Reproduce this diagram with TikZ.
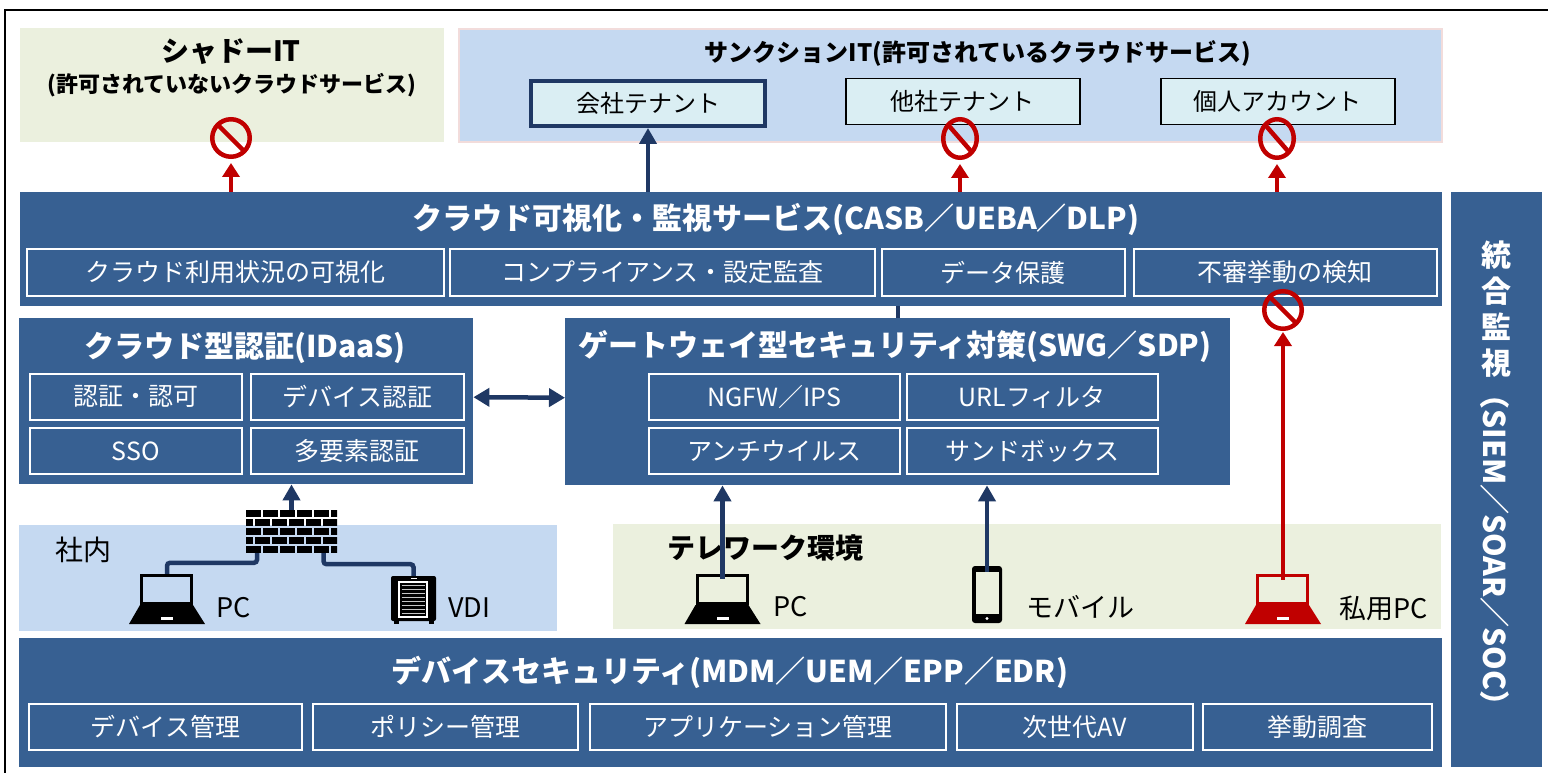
\documentclass[tikz,border=0pt]{standalone}
\usepackage{fontspec}
\setmainfont{Noto Sans CJK JP}
\usetikzlibrary{arrows.meta,shapes.geometric,calc}
\definecolor{navy}{RGB}{55,96,146}
\definecolor{darknavy}{RGB}{31,56,100}
\definecolor{lightblue}{RGB}{197,217,241}
\definecolor{lightgreen}{RGB}{235,240,222}
\definecolor{tenantfill}{RGB}{218,238,243}
\definecolor{pinkline}{RGB}{242,220,219}
\definecolor{alertred}{RGB}{192,0,0}
\newcommand\myfs[1]{\fontsize{#1}{#1}\selectfont}
\tikzset{
  wh/.style 2 args={minimum width=#1pt, minimum height=#2pt, anchor=north west},
  bluebox/.style={inner sep=0, fill=navy, draw=none},
  titlew/.style={text=white, font=\bfseries\myfs{30}, inner sep=0},
  subbox/.style={inner sep=0, draw=white, line width=1.8pt, text=white, font=\myfs{25}},
  tenant/.style={inner sep=0, fill=tenantfill, draw=black, line width=1.5pt, font=\myfs{24}},
  lbl/.style={font=\myfs{27}, inner sep=0, anchor=west},
  icon/.style={inner sep=0, draw=none},
  nosign/.style={draw=alertred, line width=4.5pt, inner sep=0,
    path picture={\draw[alertred, line width=4.5pt] (path picture bounding box.north west) -- (path picture bounding box.south east);}},
  nocircle/.style={nosign, circle, minimum size=37.5pt},
  noellipse/.style={nosign, ellipse, minimum width=33.5pt, minimum height=38.5pt},
  redarrow/.style={draw=alertred, line width=4.5pt, -{Triangle[length=14pt,width=17pt]}},
  navyarrow/.style={draw=darknavy, line width=4.5pt, -{Triangle[length=16pt,width=17pt]}},
  navydouble/.style={draw=darknavy, line width=4.5pt, {Triangle[length=16pt,width=18pt]}-{Triangle[length=16pt,width=18pt]}},
  navyline/.style={draw=darknavy, line width=4.5pt},
  laptop/.pic={
    \draw[line width=3pt] (-25.5,-23.5) rectangle (24.5,4.5);
    \fill (-27,6) -- (26,6) -- (38,25) -- (-38,25) -- cycle;
    \fill[white] (-6,18) rectangle (6,21);
  },
  mobile/.pic={
    \fill[black, rounded corners=3pt] (-15,-28.5) rectangle (15,28.5);
    \fill[lightgreen] (-11.5,-22.5) rectangle (11.5,19.5);
    \fill[white] (0,24) circle (1.6pt);
  },
  vdi/.pic={
    \fill[black, rounded corners=2pt] (-22.5,-24) rectangle (22.5,21);
    \fill[black] (-20,20) rectangle (-15,24);
    \fill[black] (15,20) rectangle (20,24);
    \fill[white] (-15.5,-19) rectangle (14.5,18);
    \fill[black] (-13.5,-17) rectangle (12.5,16);
    \foreach \ss in {0,...,7} \draw[gray!45, line width=1.6pt] (-12,{-14.5+\ss*4}) -- (11,{-14.5+\ss*4});
    \fill[white] (-3,-22.5) rectangle (3,-21);
  },
  firewall/.pic={
    \begin{scope}
      \clip (-45.5,-21.5) rectangle (45.5,21.5);
      \foreach \rr in {0,1,2,3,4}{
        \pgfmathsetmacro\yy{-21.5+\rr*9}
        \pgfmathsetmacro\off{ifthenelse(mod(\rr,2)==0,0,-8.5)}
        \foreach \kk in {0,...,6}{
          \fill[black] ({-45.5+\off+\kk*17},\yy) rectangle ++(15.3,7);
        }
      }
    \end{scope}
  }
}
\begin{document}
\begin{tikzpicture}[x=1pt,y=-1pt]
\useasboundingbox (0,0) rectangle (1548,773);
\fill[white] (0,0) rectangle (1548,773);
% outer frame
\draw[line width=2.5pt] (5,773) -- (5,10) -- (1548,10);

% Shadow IT
\node[wh={424}{114}, inner sep=0, fill=lightgreen] (shadow) at (20,28) {};
\node[font=\bfseries\myfs{28}, inner sep=0] (shadowT1) at (231,52) {シャドーIT};
\node[font=\bfseries\myfs{22}, inner sep=0] (shadowT2) at (232,85) {(許可されていないクラウドサービス)};

% Sanction IT
\node[wh={983}{113}, inner sep=0, fill=lightblue, draw=pinkline, line width=2pt] (sanction) at (458,28) {};
\node[font=\bfseries\myfs{24}, inner sep=0] (sanctionT) at (978,53) {サンクションIT(許可されているクラウドサービス)};
\node[tenant, draw=darknavy, line width=4pt, wh={234}{45}] (t1) at (529,79) {会社テナント};
\node[tenant, wh={234}{46}] (t2) at (845,78) {他社テナント};
\node[tenant, wh={234}{46}] (t3) at (1160,78) {個人アカウント};

% CASB
\node[bluebox, wh={1422}{114}] (casb) at (20,192) {};
\node[titlew] (casbT) at (776,219) {クラウド可視化・監視サービス(CASB／UEBA／DLP)};
\node[subbox, wh={417}{47}] (c1) at (26,248) {クラウド利用状況の可視化};
\node[subbox, wh={425}{47}] (c2) at (449,248) {コンプライアンス・設定監査};
\node[subbox, wh={243}{47}] (c3) at (881,248) {データ保護};
\node[subbox, wh={303}{47}] (c4) at (1133,248) {不審挙動の検知};

% unified monitoring
\node[bluebox, wh={91}{575}] (siem) at (1451,192) {};
\node[text=white, font=\bfseries\fontsize{30}{36}\selectfont, align=center, inner sep=0] (siemT1) at (1496,309) {統\\合\\監\\視};
\node[text=white, font=\bfseries\myfs{30}, rotate=-90, inner sep=0] (siemT2) at (1495,550) {（SIEM／SOAR／SOC）};

% IDaaS
\node[bluebox, wh={454}{166}] (idaas) at (19,318) {};
\node[titlew] (idaasT) at (245,348) {クラウド型認証(IDaaS)};
\node[subbox, wh={212}{46}] (i1) at (29,373) {認証・認可};
\node[subbox, wh={213}{46}] (i2) at (250,373) {デバイス認証};
\node[subbox, wh={212}{46}] (i3) at (29,427) {SSO};
\node[subbox, wh={213}{46}] (i4) at (250,427) {多要素認証};

% Gateway
\node[bluebox, wh={665}{167}] (gw) at (565,318) {};
\node[titlew] (gwT) at (895,347) {ゲートウェイ型セキュリティ対策(SWG／SDP)};
\node[subbox, wh={251}{46}] (g1) at (648,373) {NGFW／IPS};
\node[subbox, wh={251}{46}] (g2) at (906,373) {URLフィルタ};
\node[subbox, wh={251}{46}] (g3) at (648,427) {アンチウイルス};
\node[subbox, wh={251}{46}] (g4) at (906,427) {サンドボックス};

% in-house
\node[wh={538}{106}, inner sep=0, fill=lightblue] (shanai) at (19,525) {};
\node[font=\myfs{28}, inner sep=0, anchor=west] (shanaiL) at (55,550) {社内};

% telework
\node[wh={828}{105}, inner sep=0, fill=lightgreen] (tele) at (613,524) {};
\node[font=\bfseries\myfs{28}, inner sep=0, anchor=west] (teleL) at (667,548) {テレワーク環境};

% device security
\node[bluebox, wh={1423}{129}] (dev) at (19,638) {};
\node[titlew] (devT) at (730,672) {デバイスセキュリティ(MDM／UEM／EPP／EDR)};
\node[subbox, wh={273}{46}] (d1) at (28,703) {デバイス管理};
\node[subbox, wh={265}{46}] (d2) at (312,703) {ポリシー管理};
\node[subbox, wh={356}{46}] (d3) at (589,703) {アプリケーション管理};
\node[subbox, wh={236}{46}] (d4) at (956,703) {次世代AV};
\node[subbox, wh={229}{46}] (d5) at (1202,703) {挙動調査};

% icons
\node[icon, minimum width=76pt, minimum height=50pt] (pc1) at (167,599) {};
\pic at (pc1.center) {laptop};
\node[lbl] (pc1L) at (216,608) {PC};
\node[icon, minimum width=45pt, minimum height=48pt] (vdi) at (413.5,600) {};
\pic at (vdi.center) {vdi};
\node[lbl] (vdiL) at (448,608) {VDI};
\node[icon, minimum width=91pt, minimum height=43pt] (fw) at (291.5,531.5) {};
\pic at (fw.center) {firewall};
\coordinate (fwL) at ($(fw.south)+(-34.5,0)$);
\coordinate (fwR) at ($(fw.south)+(32,0)$);

\node[icon, minimum width=76pt, minimum height=50pt] (pc2) at (722.5,599) {};
\pic at (pc2.center) {laptop};
\node[lbl] (pc2L) at (773,607) {PC};
\node[icon, minimum width=30pt, minimum height=57pt] (mob) at (987,594.5) {};
\pic at (mob.center) {mobile};
\node[lbl] (mobL) at (1026,607) {モバイル};
\node[icon, minimum width=76pt, minimum height=50pt] (pc3) at (1283,599) {};
\pic[color=alertred] at (pc3.center) {laptop};
\node[lbl] (pc3L) at (1339,608) {私用PC};

% connectors
\draw[navyline, rounded corners=3pt] (pc1.north) -- ++(0,-11) -| (fwL);
\draw[navyline, rounded corners=3pt] (fwR) -- ++(0,11) -| (vdi.north);
\draw[navyarrow] (fw.north) -- (fw.north |- idaas.south);
\draw[navydouble] ([yshift=4pt]idaas.east) -- ([yshift=4pt]gw.west);
\draw[navyline, line width=4pt] (gw.north) -- (gw.north |- casb.south);
\draw[navyarrow] ([yshift=-5pt]pc2.north) -- (pc2.north |- gw.south);
\draw[navyarrow] ([yshift=-6pt]mob.north) -- (mob.north |- gw.south);
\draw[navyarrow] (t1.south |- casb.north) -- (t1.south);

% prohibition signs
\node[nocircle] (s1) at (231,138) {};
\node[noellipse] (s2) at (960,138.5) {};
\node[noellipse] (s3) at (1277,138.5) {};
\node[nocircle] (s4) at (1283,310) {};
\draw[redarrow] (s1 |- casb.north) -- ([yshift=-4pt]s1.south);
\draw[redarrow] (s2 |- casb.north) -- ([yshift=-4pt]s2.south);
\draw[redarrow] (s3 |- casb.north) -- ([yshift=-4pt]s3.south);
\draw[redarrow] ([yshift=-6pt]pc3.north) -- ([yshift=-1pt]s4.south);
\end{tikzpicture}
\end{document}
